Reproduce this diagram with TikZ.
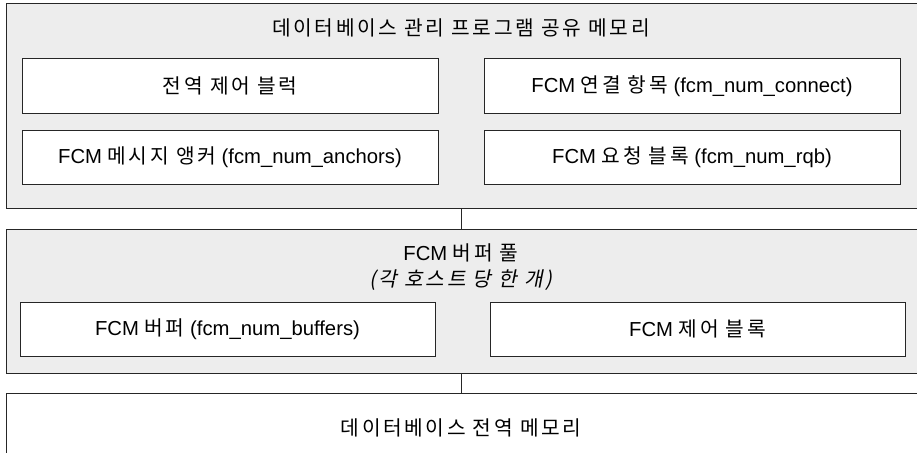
\documentclass[tikz,border=0pt]{standalone}
\usepackage{fontspec}
\setmainfont{Liberation Sans}
\newfontfamily\kr[LetterSpace=13]{Noto Sans CJK KR}
\newfontfamily\krit[LetterSpace=13,FakeSlant=0.2]{Noto Sans CJK KR}

\tikzset{every picture/.style={line width=0.75pt}}
\tikzset{
  memarea/.style={draw=black!85, fill=black!7, inner sep=0pt, minimum width=693pt},
  memblock/.style={draw=black!85, fill=white, inner sep=0pt, minimum width=312pt, minimum height=40.5pt, font=\fontsize{15.2pt}{18pt}\selectfont},
  memtitle/.style={inner sep=0.75pt, align=center, font=\fontsize{15.2pt}{19.5pt}\selectfont},
  memlink/.style={draw=black!85, line width=0.75pt}
}

\begin{document}
\begin{tikzpicture}[x=0.75pt,y=0.75pt,yscale=-1,xscale=1]
\useasboundingbox (0,0) rectangle (917,453);
\coordinate (mid) at (461,0);

%Shared memory of the database manager
\node [memarea, minimum height=153pt] (shm) at (468,106) {};
\node [memtitle] (shmtitle) at (461,28) {\kr 데이터베이스 관리 프로그램 공유 메모리};
\node [memblock] (gcb) at (230,86) {\kr 전역 제어 블럭};
\node [memblock] (anchors) at (230,157) {FCM {\kr 메시지 앵커} (fcm\_num\_anchors)};
\node [memblock] (connect) at (692,86) {FCM {\kr 연결 항목} (fcm\_num\_connect)};
\node [memblock] (rqb) at (692,157) {FCM {\kr 요청 블록} (fcm\_num\_rqb)};

%FCM buffer pool
\node [memarea, minimum height=108pt] (pool) at (468,301) {};
\node [memtitle] (pooltitle) at (461,267) {FCM {\kr 버퍼 풀}\\{\krit (각 호스트 당 한 개)}};
\node [memblock, minimum width=311.25pt] (buf) at (227.5,329) {FCM {\kr 버퍼} (fcm\_num\_buffers)};
\node [memblock, minimum width=311.25pt] (fcb) at (697.5,329) {FCM {\kr 제어 블록}};

%Database global memory
\node [memarea, fill=white, minimum height=57.75pt] (gm) at (468,431.5) {};
\node [memtitle] (gmtitle) at (461,428) {\kr 데이터베이스 전역 메모리};

%Links
\draw [memlink] (shm.south -| mid) -- (pool.north -| mid);
\draw [memlink] (pool.south -| mid) -- (gm.north -| mid);

\end{tikzpicture}
\end{document}
